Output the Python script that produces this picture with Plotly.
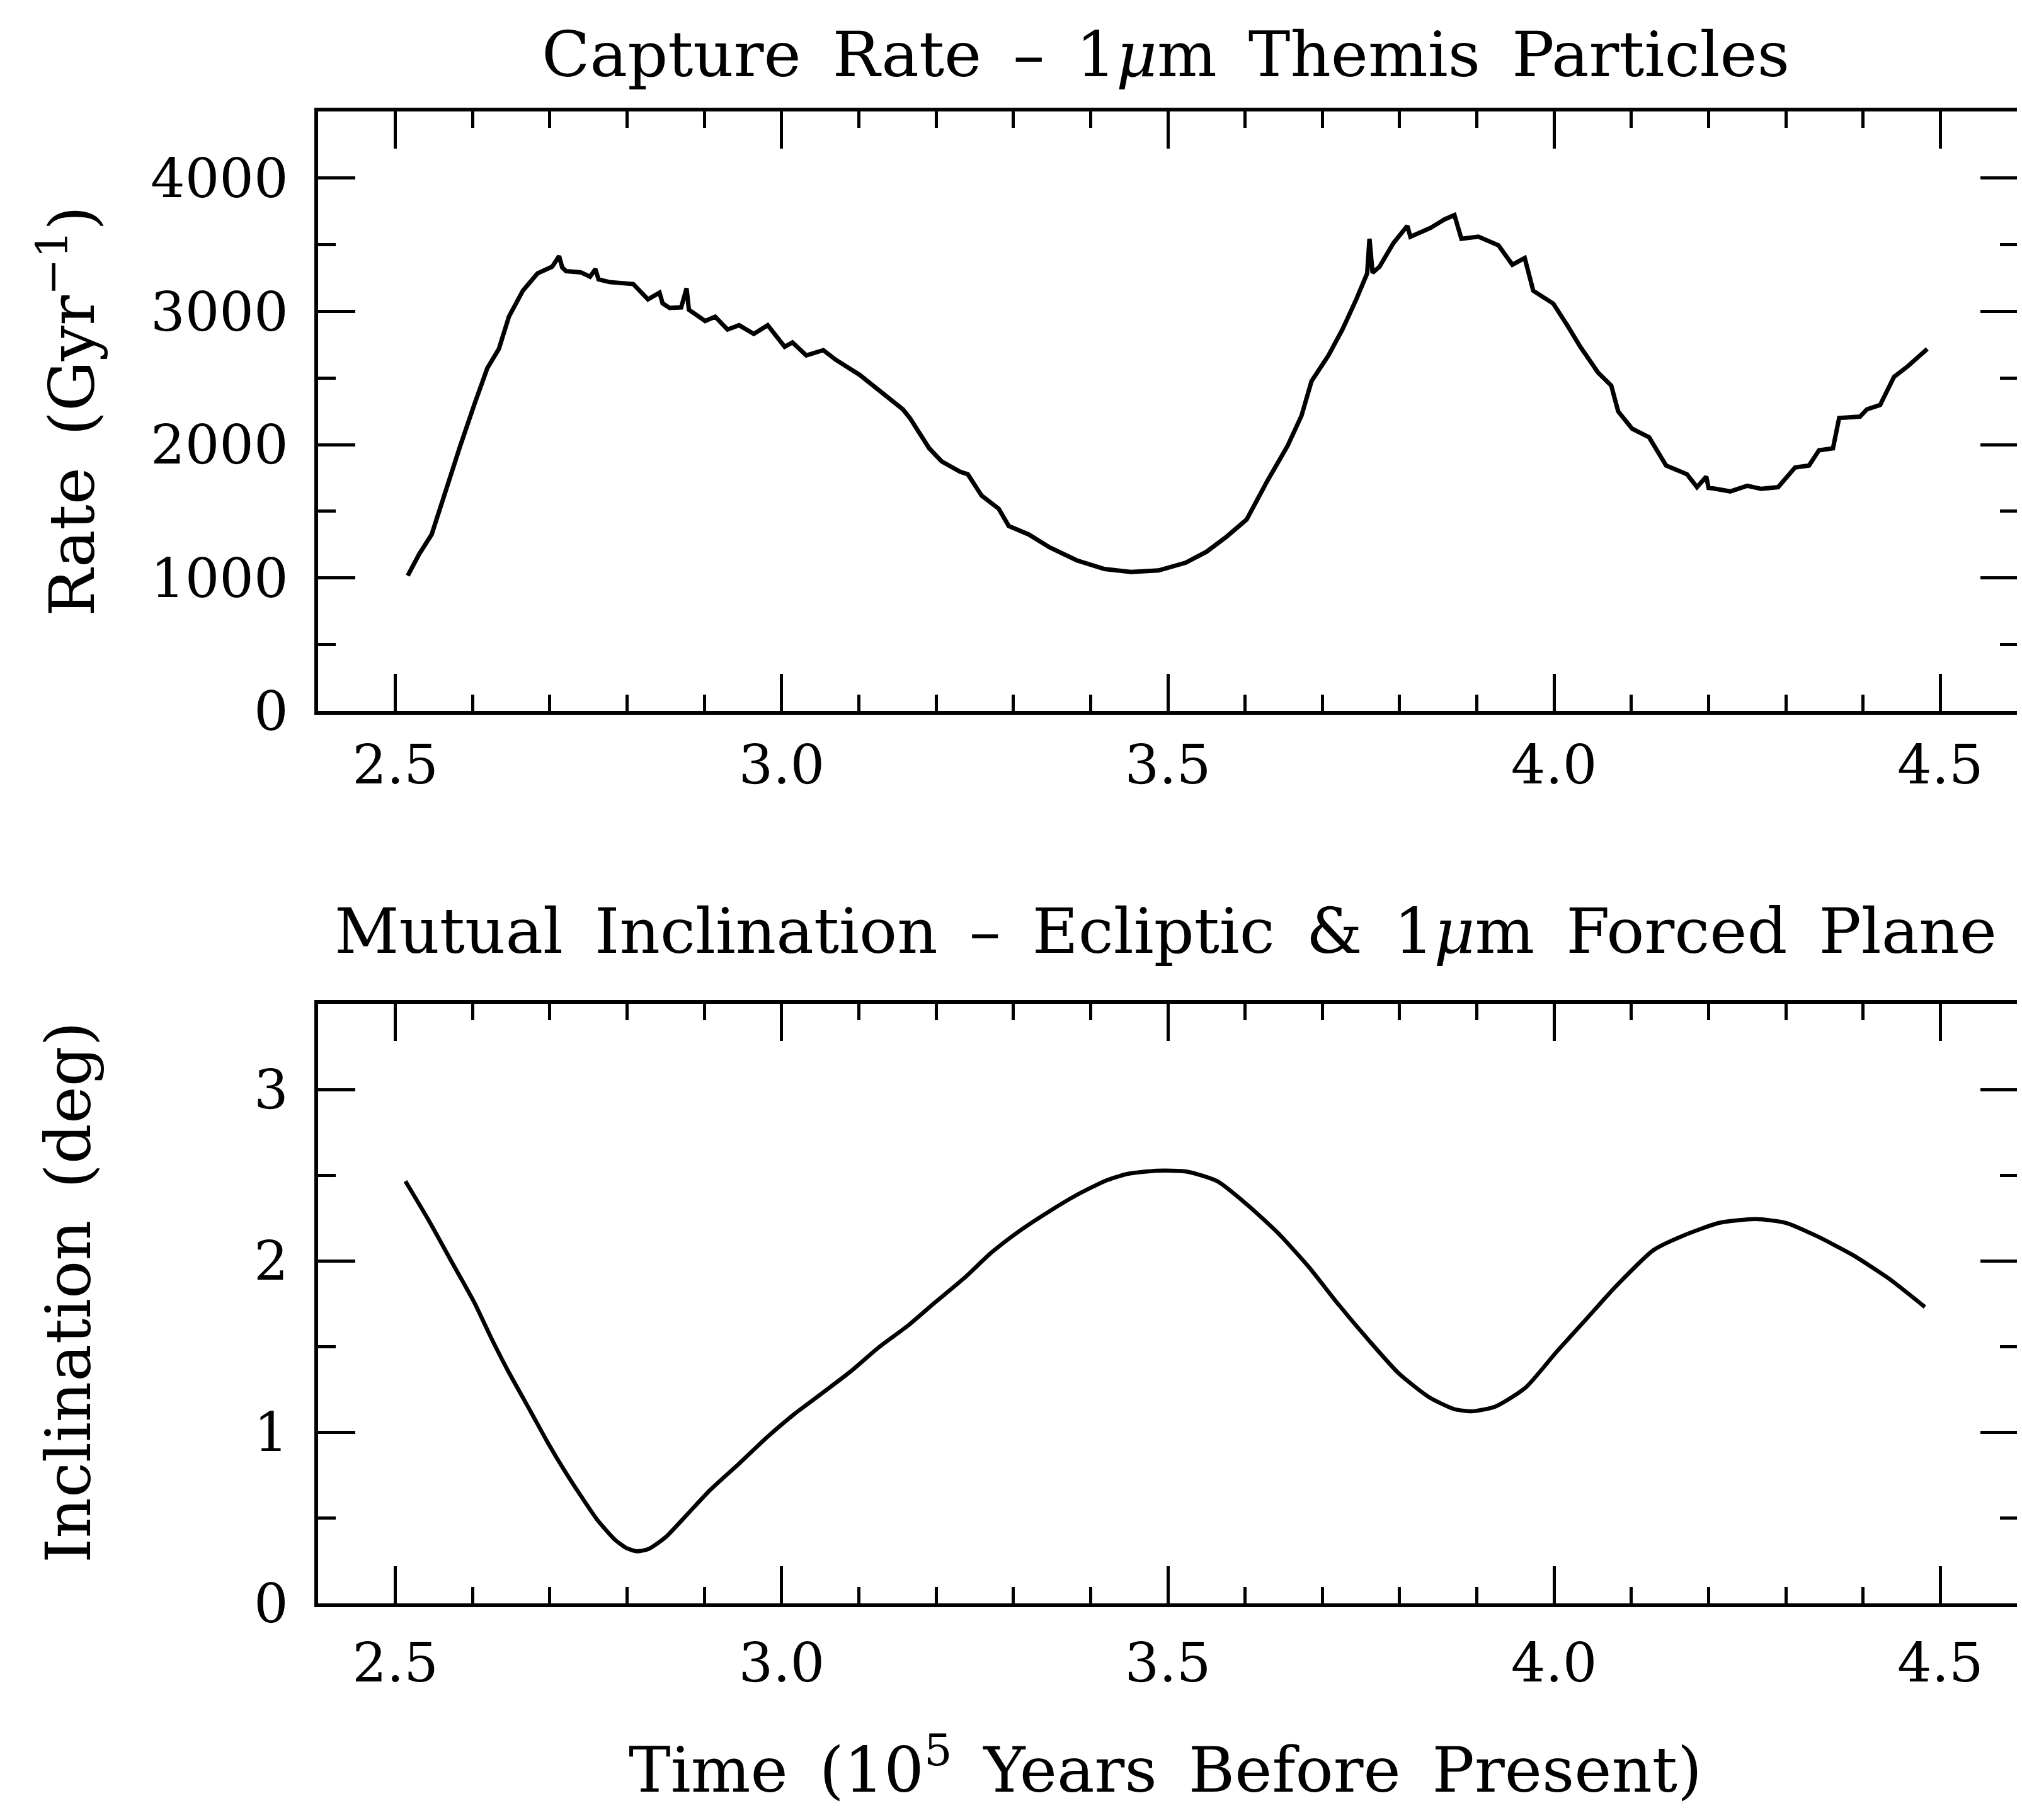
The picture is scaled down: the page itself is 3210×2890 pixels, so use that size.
import plotly.graph_objects as go

# ---------------- data ----------------
time_rate = [2.516, 2.531, 2.547, 2.566, 2.584, 2.603, 2.619, 2.634, 2.647, 2.665, 2.684, 2.703,
             2.712, 2.716, 2.721, 2.740, 2.752, 2.759, 2.763, 2.777, 2.808, 2.827, 2.842, 2.846,
             2.855, 2.870, 2.877, 2.880, 2.901, 2.914, 2.930, 2.945, 2.964, 2.982, 3.004, 3.014,
             3.032, 3.054, 3.070, 3.101, 3.119, 3.157, 3.166, 3.191, 3.207, 3.231, 3.241, 3.250,
             3.259, 3.281, 3.290, 3.294, 3.320, 3.347, 3.382, 3.418, 3.452, 3.488, 3.523, 3.550,
             3.576, 3.602, 3.629, 3.655, 3.673, 3.686, 3.708, 3.726, 3.744, 3.758, 3.761, 3.765,
             3.774, 3.792, 3.810, 3.814, 3.840, 3.858, 3.871, 3.880, 3.902, 3.928, 3.946, 3.962,
             3.973, 3.999, 4.017, 4.034, 4.057, 4.074, 4.083, 4.101, 4.123, 4.145, 4.172, 4.185,
             4.197, 4.200, 4.206, 4.228, 4.250, 4.268, 4.290, 4.312, 4.330, 4.343, 4.361, 4.369,
             4.396, 4.405, 4.422, 4.440, 4.458, 4.471, 4.483]
capture_rate = [1017, 1180, 1326, 1681, 1991, 2314, 2573, 2718, 2960, 3155, 3285, 3335,
                3415, 3330, 3302, 3293, 3260, 3318, 3240, 3220, 3205, 3090, 3140, 3060,
                3026, 3030, 3173, 3012, 2928, 2960, 2864, 2896, 2831, 2896, 2734, 2767,
                2670, 2709, 2637, 2524, 2443, 2265, 2200, 1973, 1875, 1797, 1778, 1700,
                1617, 1519, 1430, 1390, 1326, 1229, 1132, 1067, 1044, 1056, 1114, 1196,
                1309, 1438, 1730, 1991, 2217, 2476, 2670, 2864, 3091, 3285, 3545, 3290,
                3335, 3512, 3642, 3560, 3626, 3690, 3723, 3545, 3561, 3496, 3350, 3400,
                3155, 3058, 2896, 2734, 2540, 2443, 2249, 2120, 2055, 1843, 1778, 1681,
                1760, 1675, 1672, 1649, 1691, 1668, 1681, 1829, 1843, 1958, 1972, 2200,
                2210, 2265, 2297, 2508, 2589, 2654, 2718]

time_incl = [2.513, 2.544, 2.573, 2.602, 2.624, 2.646, 2.675, 2.697, 2.719, 2.741, 2.762, 2.784,
             2.799, 2.813, 2.828, 2.850, 2.879, 2.908, 2.945, 2.981, 3.017, 3.054, 3.090, 3.126,
             3.163, 3.199, 3.236, 3.272, 3.308, 3.345, 3.381, 3.418, 3.447, 3.486, 3.525, 3.564,
             3.603, 3.643, 3.682, 3.721, 3.760, 3.799, 3.838, 3.870, 3.893, 3.924, 3.963, 4.003,
             4.042, 4.081, 4.129, 4.167, 4.214, 4.261, 4.300, 4.339, 4.386, 4.433, 4.480]
inclination = [2.465, 2.230, 1.994, 1.759, 1.551, 1.357, 1.122, 0.942, 0.776, 0.623, 0.485, 0.374,
               0.324, 0.305, 0.319, 0.388, 0.526, 0.665, 0.817, 0.970, 1.108, 1.233, 1.357, 1.496,
               1.620, 1.759, 1.898, 2.050, 2.175, 2.285, 2.382, 2.465, 2.507, 2.526, 2.521, 2.465,
               2.327, 2.161, 1.967, 1.745, 1.537, 1.343, 1.205, 1.136, 1.122, 1.150, 1.260, 1.468,
               1.662, 1.856, 2.064, 2.147, 2.222, 2.244, 2.222, 2.147, 2.036, 1.898, 1.731]

x_range = [2.4, 4.6]
rate_range = [0, 4500]
incl_range = [0, 3.5]

SP = "\u2002"
title_top = SP.join(["Capture", "Rate", "\u2013", "1<i>\u03bc</i>m", "Themis", "Particles"])
title_bottom = SP.join(["Mutual", "Inclination", "\u2013", "Ecliptic", "&", "1<i>\u03bc</i>m",
                        "Forced", "Plane"])
ytitle_top = SP.join(["Rate", "(Gyr<sup>\u22121</sup>)"])
ytitle_bottom = SP.join(["Inclination", "(deg)"])
xtitle = SP.join(["Time", "(10<sup>5</sup>", "Years", "Before", "Present)"])

# ---------------- figure ----------------
W, H = 3210, 2890
FONT = "DejaVu Serif"

fig = go.Figure()
fig.add_trace(go.Scatter(x=time_rate, y=capture_rate, mode="lines",
                         line=dict(color="black", width=7), xaxis="x", yaxis="y",
                         showlegend=False))
fig.add_trace(go.Scatter(x=time_incl, y=inclination, mode="lines",
                         line=dict(color="black", width=6.5, shape="spline", smoothing=0.6),
                         xaxis="x2", yaxis="y2", showlegend=False))

def xax(anchor, standoff):
    return dict(range=x_range, anchor=anchor, showgrid=False, zeroline=False,
                showline=True, linecolor="black", linewidth=6, mirror="allticks",
                ticks="inside", ticklen=59, tickwidth=4.5, tickcolor="black",
                tick0=2.5, dtick=0.5, tickformat=".1f",
                tickfont=dict(family=FONT, size=86, color="black"),
                ticklabelstandoff=standoff,
                minor=dict(ticks="inside", ticklen=26, tickwidth=4.5, tickcolor="black",
                           dtick=0.1, tick0=2.5, showgrid=False))

def yax(anchor, rng, dtick):
    return dict(range=rng, anchor=anchor, showgrid=False, zeroline=False,
                showline=True, linecolor="black", linewidth=6, mirror="allticks",
                ticks="inside", ticklen=59, tickwidth=4.5, tickcolor="black",
                tick0=0, dtick=dtick,
                tickfont=dict(family=FONT, size=86, color="black"),
                ticklabelstandoff=24,
                minor=dict(ticks="inside", ticklen=28, tickwidth=4.5, tickcolor="black",
                           dtick=dtick / 2, tick0=0, showgrid=False))

L, R = 497 / W, 3195 / W
TF = dict(family=FONT, size=100, color="black")
fig.update_layout(
    width=W, height=H,
    margin=dict(l=0, r=0, t=0, b=0),
    paper_bgcolor="white", plot_bgcolor="white",
    font=dict(family=FONT, color="black"),
    xaxis=dict(domain=[L, R], **xax("y", 6)),
    yaxis=dict(domain=[1 - 1141 / H, 1 - 172 / H], **yax("x", rate_range, 1000)),
    xaxis2=dict(domain=[L, R], **xax("y2", 14)),
    yaxis2=dict(domain=[1 - 2583 / H, 1 - 1614 / H], **yax("x2", incl_range, 1)),
    annotations=[
        dict(text=title_top, x=1842 / W, y=1 - 80 / H, xref="paper", yref="paper",
             xanchor="center", yanchor="middle", showarrow=False, font=TF),
        dict(text=title_bottom, x=1842 / W, y=1 - 1496 / H, xref="paper", yref="paper",
             xanchor="center", yanchor="middle", showarrow=False, font=TF),
        dict(text=ytitle_top, x=100 / W, y=1 - 656 / H, xref="paper", yref="paper",
             xanchor="center", yanchor="middle", textangle=-90, showarrow=False, font=TF),
        dict(text=ytitle_bottom, x=100 / W, y=1 - 2080 / H, xref="paper", yref="paper",
             xanchor="center", yanchor="middle", textangle=-90, showarrow=False, font=TF),
        dict(text=xtitle, x=1842 / W, y=-0.008, xref="paper", yref="paper",
             xanchor="center", yanchor="bottom", showarrow=False, font=TF),
    ],
)

fig.write_html("out.html")
